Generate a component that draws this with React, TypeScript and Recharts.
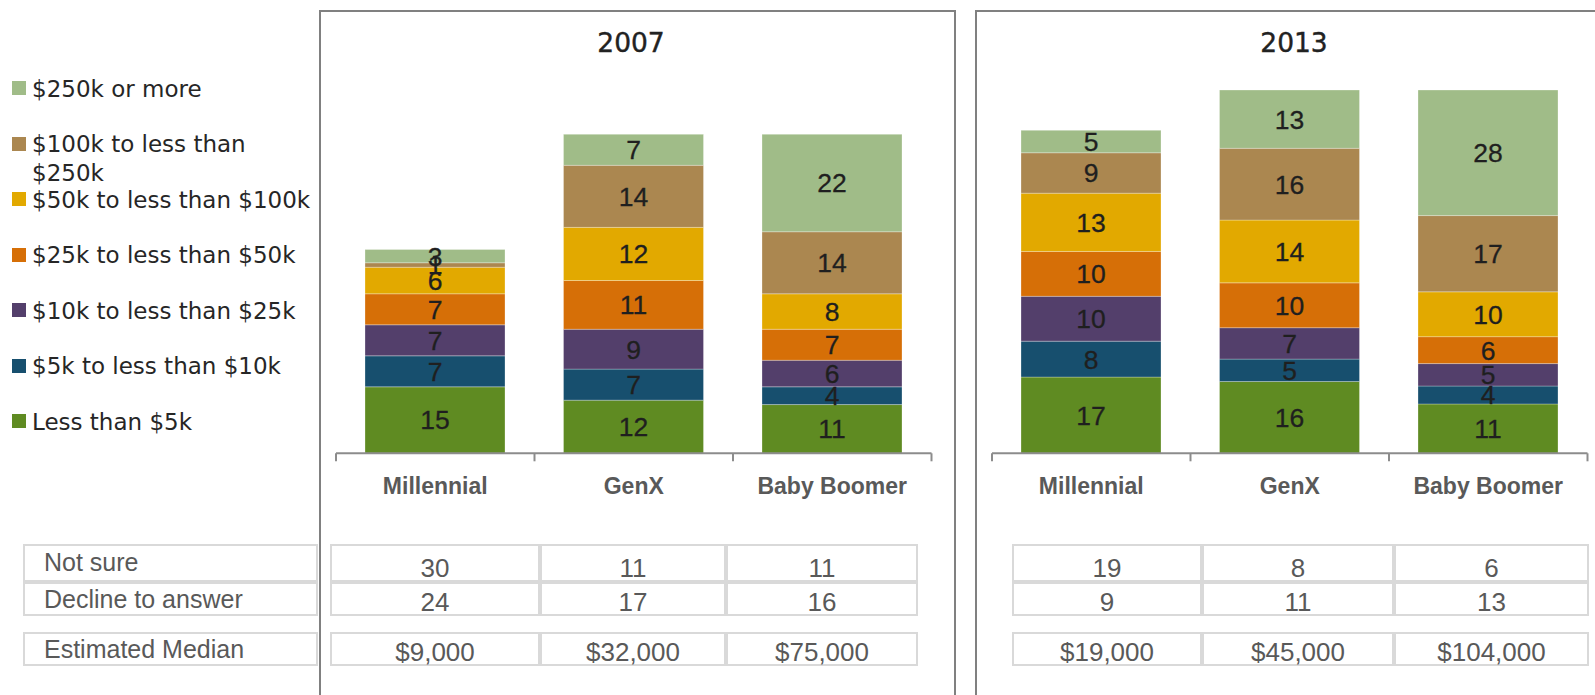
import React from 'react'
import { BarChart, Bar, XAxis, YAxis, LabelList } from 'recharts'

const GENERATIONS = ['Millennial', 'GenX', 'Baby Boomer']

// bottom of the stack first
const SERIES = [
  { key: 'lt5k',    name: 'Less than $5k',              color: '#5f8b22' },
  { key: 'k5_10',   name: '$5k to less than $10k',      color: '#174f6e' },
  { key: 'k10_25',  name: '$10k to less than $25k',     color: '#533f6b' },
  { key: 'k25_50',  name: '$25k to less than $50k',     color: '#d66f07' },
  { key: 'k50_100', name: '$50k to less than $100k',    color: '#e2a900' },
  { key: 'k100_250',name: '$100k to less than $250k',   color: '#ab8750' },
  { key: 'k250',    name: '$250k or more',              color: '#a0bc88' },
]

// 2007 values, Millennial / GenX / Baby Boomer
const LT5K_2007     = [15, 12, 11]
const K5_10_2007    = [7, 7, 4]
const K10_25_2007   = [7, 9, 6]
const K25_50_2007   = [7, 11, 7]
const K50_100_2007  = [6, 12, 8]
const K100_250_2007 = [1, 14, 14]
const K250_2007     = [3, 7, 22]

// 2013 values
const LT5K_2013     = [17, 16, 11]
const K5_10_2013    = [8, 5, 4]
const K10_25_2013   = [10, 7, 5]
const K25_50_2013   = [10, 10, 6]
const K50_100_2013  = [13, 14, 10]
const K100_250_2013 = [9, 16, 17]
const K250_2013     = [5, 13, 28]

const NOT_SURE_2007 = [30, 11, 11]
const DECLINE_2007  = [24, 17, 16]
const MEDIAN_2007   = ['$9,000', '$32,000', '$75,000']

const NOT_SURE_2013 = [19, 8, 6]
const DECLINE_2013  = [9, 11, 13]
const MEDIAN_2013   = ['$19,000', '$45,000', '$104,000']

const ROW_LABELS = ['Not sure', 'Decline to answer', 'Estimated Median']

const VALUES_2007 = [LT5K_2007, K5_10_2007, K10_25_2007, K25_50_2007, K50_100_2007, K100_250_2007, K250_2007]
const VALUES_2013 = [LT5K_2013, K5_10_2013, K10_25_2013, K25_50_2013, K50_100_2013, K100_250_2013, K250_2013]

const buildRows = (values: number[][]) =>
  GENERATIONS.map((g, i) => {
    const row: Record<string, string | number> = { name: g }
    SERIES.forEach((s, j) => { row[s.key] = values[j][i] })
    return row
  })

const SANS = '"Liberation Sans", Arial, sans-serif'
const WIDE = '"DejaVu Sans", sans-serif'

const CHART_TOP = 11
const CHART_H = 520
const PLOT_TOP = 90
const PLOT_BOTTOM = 453.3
const PLOT_W = 595.5
const AXIS_H = CHART_H - (PLOT_TOP - CHART_TOP) - (PLOT_BOTTOM - PLOT_TOP)
const AXIS_GRAY = '#8c8c8c'

function GenTick(props: any) {
  const { x, y, payload, index } = props
  const band = PLOT_W / GENERATIONS.length
  const last = index === GENERATIONS.length - 1
  return (
    <g>
      <line x1={x - band / 2} x2={x - band / 2} y1={y - 8} y2={y} stroke={AXIS_GRAY} strokeWidth={2} />
      {last && <line x1={x + band / 2} x2={x + band / 2} y1={y - 8} y2={y} stroke={AXIS_GRAY} strokeWidth={2} />}
      <text x={x} y={y + 33} textAnchor="middle" fill="#595959" fontFamily={SANS} fontSize={23} fontWeight="bold">
        {payload.value}
      </text>
    </g>
  )
}

function Panel({ year, values, yMax, left, width, titleX }: {
  year: string; values: number[][]; yMax: number; left: number; width: number; titleX: number
}) {
  const data = buildRows(values)
  return (
    <>
      <div style={{ position: 'absolute', left: titleX - 60, top: 28, width: 120, textAlign: 'center',
        fontFamily: WIDE, fontSize: 26.5, color: '#222', lineHeight: '30px', WebkitTextStroke: '0.4px #222' }}>{year}</div>
      <div style={{ position: 'absolute', left, top: CHART_TOP }}>
        <BarChart
          width={width}
          height={CHART_H}
          data={data}
          margin={{ top: PLOT_TOP - CHART_TOP, right: width - 16 - PLOT_W, left: 16, bottom: 0 }}
          barSize={140}
        >
          <YAxis hide domain={[0, yMax]} />
          <XAxis
            dataKey="name"
            height={AXIS_H}
            axisLine={{ stroke: AXIS_GRAY, strokeWidth: 2 }}
            tickLine={false}
            tickSize={8}
            tickMargin={0}
            interval={0}
            tick={<GenTick />}
          />
          {SERIES.map(s => (
            <Bar key={s.key} dataKey={s.key} stackId="a" fill={s.color}
              stroke="rgba(255,255,255,0.35)" strokeWidth={0.8} isAnimationActive={false}>
              <LabelList dataKey={s.key} position="center"
                style={{ fill: '#1f1f1f', fontSize: 26.5, fontFamily: SANS, stroke: '#1f1f1f', strokeWidth: 0.3 }} />
            </Bar>
          ))}
        </BarChart>
      </div>
    </>
  )
}

const LINE = '#d9d9d9'
const ROW_TOPS = [544, 581.5, 632]
const ROW_BOTTOMS = [581.5, 615.5, 666]
const LABEL_BASE = [571, 607.7, 658]
const VALUE_BASE = [576.7, 611, 661]

function ValueTable({ left, colWidths, rows }: { left: number; colWidths: number[]; rows: (string | number)[][] }) {
  const cells: React.ReactNode[] = []
  rows.forEach((r, ri) => {
    let x = left
    r.forEach((v, ci) => {
      const w = colWidths[ci]
      cells.push(
        <div key={`${ri}-${ci}`} style={{ position: 'absolute', left: x, top: ROW_TOPS[ri], width: w,
          height: ROW_BOTTOMS[ri] - ROW_TOPS[ri], border: `2px solid ${LINE}`, boxSizing: 'border-box' }} />
      )
      cells.push(
        <div key={`t${ri}-${ci}`} style={{ position: 'absolute', left: x, top: VALUE_BASE[ri] - 22, width: w,
          textAlign: 'center', fontFamily: SANS, fontSize: 26, lineHeight: '26px', color: '#595959' }}>{v}</div>
      )
      x += w
    })
  })
  return <>{cells}</>
}

function LabelTable() {
  return (
    <>
      {ROW_LABELS.map((l, i) => (
        <React.Fragment key={l}>
          <div style={{ position: 'absolute', left: 23, top: ROW_TOPS[i], width: 295,
            height: ROW_BOTTOMS[i] - ROW_TOPS[i], border: `2px solid ${LINE}`, boxSizing: 'border-box' }} />
          <div style={{ position: 'absolute', left: 44, top: LABEL_BASE[i] - 21.2, fontFamily: SANS,
            fontSize: 25, lineHeight: '25px', color: '#595959', whiteSpace: 'nowrap' }}>{l}</div>
        </React.Fragment>
      ))}
    </>
  )
}

function Legend() {
  const items = [...SERIES].reverse()
  return (
    <>
      {items.map((s, i) => {
        const cy = 88 + i * 55.5
        return (
          <React.Fragment key={s.key}>
            <div style={{ position: 'absolute', left: 12, top: cy - 7, width: 14, height: 14, background: s.color }} />
            <div style={{ position: 'absolute', left: 32, top: cy - 13.2, width: 285, fontFamily: WIDE,
              fontSize: 23, lineHeight: '29px', color: '#262626' }}>{s.name}</div>
          </React.Fragment>
        )
      })}
    </>
  )
}

export default function App() {
  return (
    <div style={{ position: 'absolute', left: 0, top: 0, width: 1595, height: 695, background: '#fff', overflow: 'hidden' }}>
      <div style={{ position: 'absolute', left: 319, top: 10, width: 637, height: 700,
        borderLeft: '2px solid #808080', borderTop: '2px solid #808080', borderRight: '2px solid #808080', boxSizing: 'border-box' }} />
      <div style={{ position: 'absolute', left: 975, top: 10, width: 640, height: 700,
        borderLeft: '2px solid #808080', borderTop: '2px solid #808080', boxSizing: 'border-box' }} />
      <Legend />
      <Panel year="2007" values={VALUES_2007} yMax={82} left={320} width={636} titleX={631} />
      <Panel year="2013" values={VALUES_2013} yMax={80.7} left={976} width={619} titleX={1294} />
      <LabelTable />
      <ValueTable left={330} colWidths={[210, 186, 192]} rows={[NOT_SURE_2007, DECLINE_2007, MEDIAN_2007]} />
      <ValueTable left={1012} colWidths={[190, 192, 195]} rows={[NOT_SURE_2013, DECLINE_2013, MEDIAN_2013]} />
    </div>
  )
}
